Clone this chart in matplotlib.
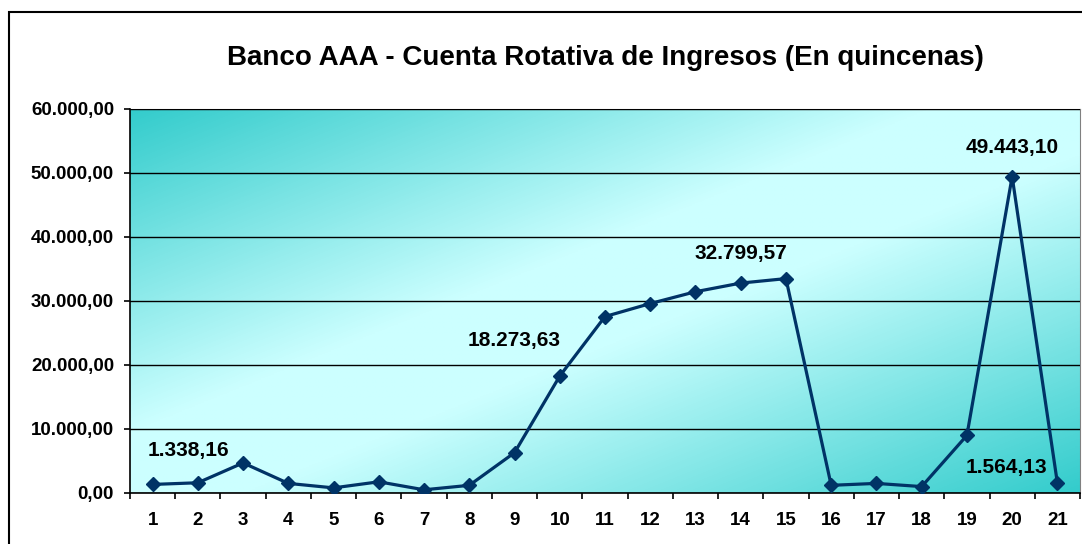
import numpy as np
import matplotlib.pyplot as plt
from matplotlib.colors import LinearSegmentedColormap
from matplotlib.patches import Rectangle
from matplotlib.ticker import FuncFormatter

plt.rcParams['font.family'] = ['Liberation Sans', 'DejaVu Sans']
plt.rcParams['font.weight'] = 'bold'

quincenas = list(range(1, 22))
ingresos = [1338.16, 1600, 4700, 1500, 800, 1750, 500, 1200, 6300, 18273.63,
            27570, 29600, 31450, 32799.57, 33500, 1200, 1500, 1000, 9000,
            49443.10, 1564.13]
titulo = 'Banco AAA - Cuenta Rotativa de Ingresos (En quincenas)'

# which points get a value label, and the pixel offset of each label
etiquetas = {1: (36, 34), 10: (-46, 36), 14: (0, 30), 20: (0, 29), 21: (-51, 15)}


def fmt_es(v, pos=None):
    s = f'{v:,.2f}'
    return s.replace(',', '_').replace('.', ',').replace('_', '.')


fig = plt.figure(figsize=(10.82, 5.44), dpi=100)
fig.patches.append(Rectangle((9 / 1082, -0.1), 1.2, 1 - 12 / 544 + 0.1,
                             transform=fig.transFigure, fill=False,
                             edgecolor='black', linewidth=1.5))

ax = fig.add_axes([130 / 1082, 1 - 493 / 544, 950 / 1082, 384 / 544])

# diagonal gradient: teal in top-left and bottom-right, light cyan band between
n = 300
u, v = np.meshgrid(np.linspace(0, 1, n), np.linspace(0, 1, n))
t = (u + v) / 2
lo, hi = 0.42, 0.56
s = np.where(t < lo, (lo - t) / lo, np.where(t > hi, (t - hi) / (1 - hi), 0))
s = np.clip(s, 0, 1)
cmap = LinearSegmentedColormap.from_list('fondo', ['#ccffff', '#33cccc'])
ax.imshow(s, cmap=cmap, vmin=0, vmax=1, aspect='auto', origin='upper',
          extent=[0.5, 21.5, 0, 60000], zorder=0)

ax.plot(quincenas, ingresos, color='#003366', linewidth=2.3,
        marker='D', markersize=7, zorder=3)

for q, (dx, dy) in etiquetas.items():
    val = ingresos[q - 1]
    ax.annotate(fmt_es(val), (q, val), xytext=(dx, dy),
                textcoords='offset pixels', ha='center', va='center',
                fontsize=15, fontweight='bold', zorder=4)

ax.set_xlim(0.5, 21.5)
ax.set_ylim(0, 60000)
ax.set_yticks(np.arange(0, 60001, 10000))
ax.yaxis.set_major_formatter(FuncFormatter(fmt_es))
ax.set_xticks(quincenas)
ax.set_xticks(np.arange(0.5, 22, 1), minor=True)
ax.tick_params(axis='x', which='major', length=0, pad=14, labelsize=13.5)
ax.tick_params(axis='x', which='minor', length=4.5, width=1.2)
ax.tick_params(axis='y', length=4.5, width=1.2, labelsize=13.5, pad=7)
ax.grid(axis='y', color='black', linewidth=1, zorder=1)
ax.set_axisbelow(False)

for side in ['top', 'right']:
    ax.spines[side].set_color('#808080')
for side in ['left', 'bottom']:
    ax.spines[side].set_color('black')
    ax.spines[side].set_linewidth(1.2)

fig.text(605 / 1082, 1 - 58 / 544, titulo, ha='center', va='center',
         fontsize=20, fontweight='bold')

fig.savefig('out.png', dpi=100)
